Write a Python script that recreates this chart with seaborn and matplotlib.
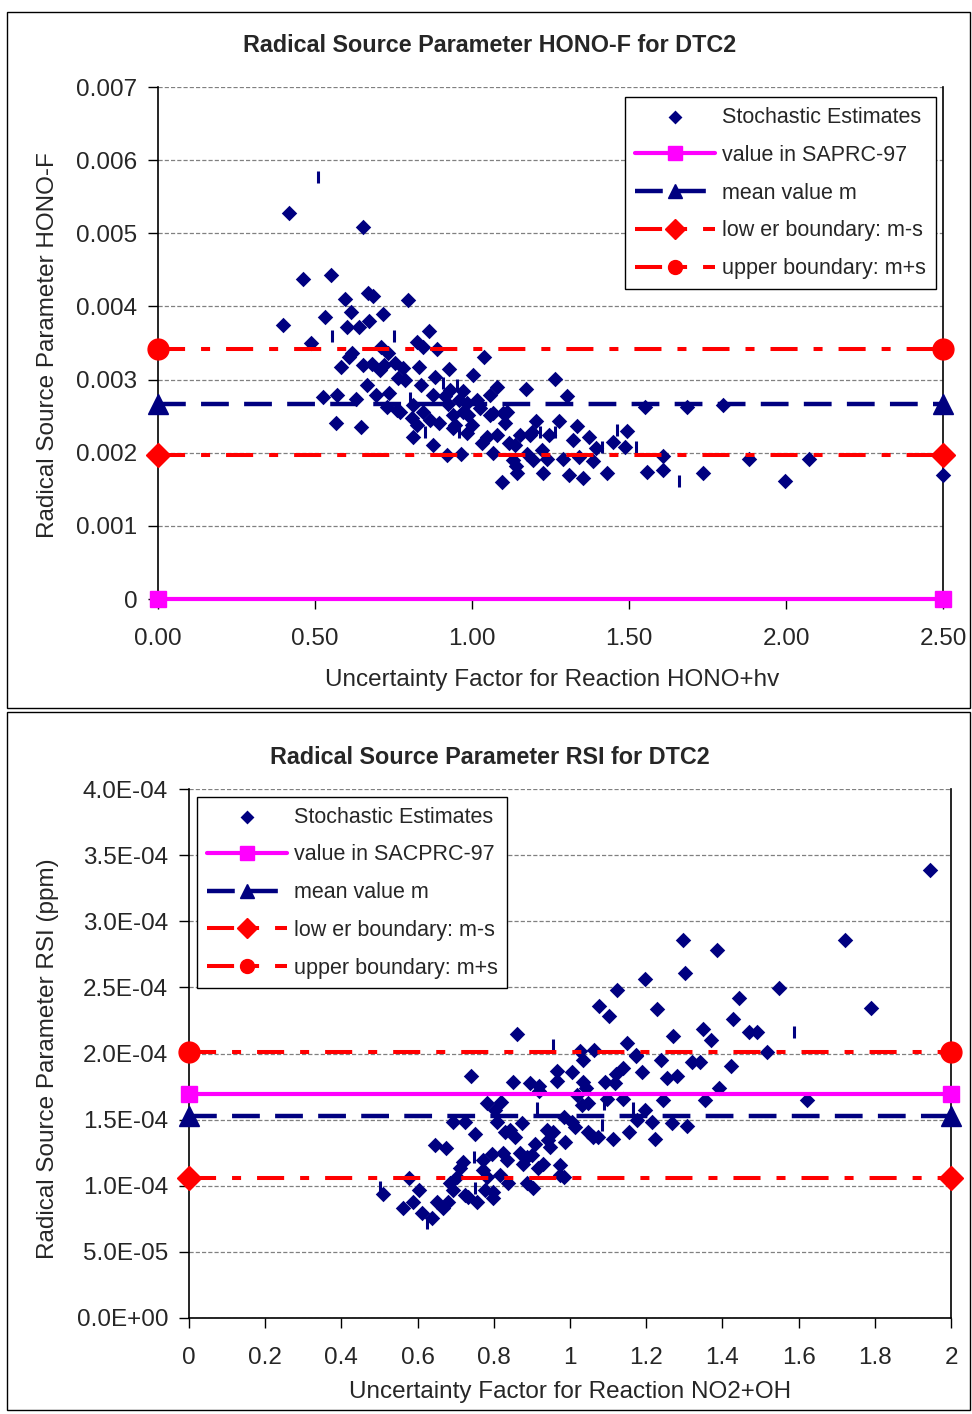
import numpy as np
import pandas as pd
import matplotlib
matplotlib.use("Agg")
import matplotlib.pyplot as plt
from matplotlib.patches import Rectangle
import seaborn as sns

# --- data: top panel (HONO-F) ---
hono_x = [0.418, 0.654, 0.461, 0.551, 0.597, 0.670, 0.684, 0.615, 0.532, 0.718,
          0.398, 0.603, 0.641, 0.673, 0.487, 0.795, 0.864, 0.824, 0.845, 0.890,
          0.618, 0.609, 0.584, 0.654, 0.710, 0.733, 0.667, 0.693, 0.737, 0.527,
          0.571, 0.629, 0.566, 0.648, 0.728, 0.760, 1.038, 0.832, 0.928, 0.720,
          0.755, 0.781, 0.765, 0.787, 1.004, 0.838, 0.883, 1.081, 1.057, 1.171,
          1.265, 1.303, 0.877, 0.930, 0.972, 0.914, 0.960, 0.985, 1.015, 1.025,
          0.925, 0.771, 0.813, 0.808, 0.845, 0.866, 0.896, 0.824, 0.811, 0.877,
          0.940, 0.946, 0.940, 0.970, 0.988, 0.983, 0.999, 1.031, 1.047, 1.079,
          1.068, 1.057, 1.068, 1.100, 1.111, 1.105, 0.919, 0.965, 1.119, 1.137,
          1.153, 1.185, 1.190, 1.205, 1.246, 1.278, 1.174, 1.195, 1.222, 1.238,
          1.129, 1.140, 1.143, 1.095, 1.227, 1.289, 1.310, 1.354, 1.323, 1.335,
          1.342, 1.386, 1.373, 1.395, 1.431, 1.450, 1.488, 1.495, 1.552, 1.556,
          1.609, 1.609, 1.686, 1.800, 1.737, 1.883, 1.998, 2.074, 2.501, 0.707,
          0.680]
hono_y = [5.28, 5.08, 4.37, 4.43, 4.10, 4.19, 4.14, 3.93, 3.85, 3.89,
          3.75, 3.72, 3.72, 3.80, 3.50, 4.09, 3.66, 3.51, 3.44, 3.42,
          3.36, 3.31, 3.17, 3.20, 3.45, 3.37, 2.92, 2.79, 2.82, 2.76,
          2.79, 2.74, 2.40, 2.35, 2.63, 2.59, 3.31, 3.17, 3.14, 3.20,
          3.22, 3.16, 3.02, 3.00, 3.06, 2.93, 3.03, 2.90, 2.79, 2.87,
          3.01, 2.77, 2.79, 2.86, 2.85, 2.77, 2.72, 2.68, 2.72, 2.61,
          2.67, 2.56, 2.65, 2.47, 2.56, 2.45, 2.41, 2.38, 2.21, 2.11,
          2.52, 2.38, 2.34, 2.56, 2.52, 2.27, 2.38, 2.13, 2.22, 2.24,
          1.99, 2.52, 2.54, 2.54, 2.56, 2.40, 1.97, 1.98, 2.13, 2.11,
          2.24, 2.24, 2.29, 2.44, 2.24, 2.44, 1.98, 1.90, 2.04, 1.92,
          1.90, 1.82, 1.72, 1.60, 1.72, 1.91, 1.70, 1.66, 2.18, 2.36,
          1.94, 1.88, 2.22, 2.06, 1.72, 2.15, 2.08, 2.30, 2.62, 1.74,
          1.76, 1.95, 2.62, 2.65, 1.72, 1.91, 1.61, 1.91, 1.69, 3.13,
          3.21]
hono_y = [v * 1e-3 for v in hono_y]
# thin clipped marks
hono_bar_x = [0.508, 0.553, 0.750, 0.909, 0.953, 0.850, 0.960, 1.217, 1.264, 1.413,
              1.463, 1.522, 0.803, 1.660]
hono_bar_y = [5.77, 3.59, 3.59, 2.95, 2.93, 2.29, 2.29, 2.29, 2.29, 2.08,
              2.31, 2.08, 2.75, 1.61]
hono_bar_y = [v * 1e-3 for v in hono_bar_y]
hono_saprc = 0.0
hono_mean = 0.00267
hono_low = 0.00197
hono_up = 0.00342
hono_xrange = [0.0, 2.5]
hono_yticks = [0, 0.001, 0.002, 0.003, 0.004, 0.005, 0.006, 0.007]
hono_yticklabels = ["0", "0.001", "0.002", "0.003", "0.004", "0.005", "0.006", "0.007"]
hono_xticks = [0, 0.5, 1.0, 1.5, 2.0, 2.5]
hono_xticklabels = ["0.00", "0.50", "1.00", "1.50", "2.00", "2.50"]

# --- data: bottom panel (RSI) ---
rsi_x = [1.077, 1.103, 0.862, 1.026, 1.062, 1.035, 1.150, 1.172, 1.188, 1.140,
         1.122, 0.967, 1.004, 0.967, 1.092, 1.118, 1.035, 1.042, 0.895, 0.919,
         0.919, 0.850, 0.741, 1.018, 1.031, 1.048, 1.098, 1.140, 0.781, 0.819,
         0.803, 0.694, 0.724, 0.751, 0.808, 0.829, 0.843, 0.856, 0.873, 0.983,
         1.004, 1.013, 0.939, 0.956, 0.943, 0.948, 0.908, 0.987, 1.048, 1.061,
         1.074, 1.112, 1.156, 1.175, 1.197, 0.646, 0.674, 0.720, 0.711, 0.704,
         0.685, 0.694, 0.771, 0.794, 0.825, 0.834, 0.869, 0.886, 0.899, 0.877,
         0.930, 0.917, 0.974, 0.772, 0.781, 0.816, 0.838, 0.886, 0.902, 0.974,
         0.983, 0.724, 0.733, 0.755, 0.777, 0.799, 0.799, 0.578, 0.604, 0.589,
         0.562, 0.611, 0.637, 0.650, 0.666, 0.681, 0.510, 1.297, 1.387, 1.302,
         1.723, 1.197, 1.124, 1.549, 1.790, 1.229, 1.444, 1.429, 1.348, 1.371,
         1.471, 1.492, 1.271, 1.518, 1.173, 1.239, 1.319, 1.341, 1.423, 1.254,
         1.282, 1.392, 1.354, 1.245, 1.623, 1.267, 1.308, 1.224, 1.214, 1.945]
rsi_y = [2.359, 2.286, 2.147, 2.020, 2.030, 1.950, 2.077, 1.989, 1.862, 1.888,
         1.845, 1.870, 1.862, 1.794, 1.787, 1.779, 1.787, 1.737, 1.779, 1.754,
         1.719, 1.787, 1.830, 1.686, 1.611, 1.624, 1.654, 1.654, 1.624, 1.636,
         1.573, 1.484, 1.484, 1.391, 1.484, 1.409, 1.422, 1.371, 1.477, 1.522,
         1.484, 1.447, 1.422, 1.409, 1.346, 1.295, 1.316, 1.333, 1.409, 1.371,
         1.366, 1.351, 1.409, 1.497, 1.573, 1.308, 1.288, 1.182, 1.132, 1.068,
         1.018, 0.968, 1.195, 1.240, 1.245, 1.195, 1.245, 1.220, 1.232, 1.164,
         1.164, 1.132, 1.157, 1.119, 1.068, 1.081, 1.023, 1.018, 0.980, 1.081,
         1.068, 0.930, 0.917, 0.879, 0.968, 0.955, 0.905, 1.061, 0.968, 0.879,
         0.829, 0.792, 0.754, 0.879, 0.829, 0.879, 0.938, 2.858, 2.783, 2.606,
         2.858, 2.561, 2.480, 2.498, 2.347, 2.334, 2.422, 2.259, 2.183, 2.102,
         2.165, 2.165, 2.132, 2.014, 1.981, 1.951, 1.933, 1.933, 1.905, 1.817,
         1.830, 1.737, 1.648, 1.648, 1.648, 1.471, 1.452, 1.351, 1.484, 3.387]
rsi_y = [v * 1e-4 for v in rsi_y]
rsi_bar_x = [0.501, 0.625, 0.748, 0.751, 0.914, 0.956, 1.089, 1.083, 1.166, 1.588]
rsi_bar_y = [0.993, 0.716, 1.220, 0.980, 1.586, 2.064, 1.620, 1.460, 1.586, 2.165]
rsi_bar_y = [v * 1e-4 for v in rsi_bar_y]
rsi_saprc = 1.694e-4
rsi_mean = 1.527e-4
rsi_low = 1.059e-4
rsi_up = 2.011e-4
rsi_xrange = [0.0, 2.0]
rsi_yticks = [0, 5e-5, 1e-4, 1.5e-4, 2e-4, 2.5e-4, 3e-4, 3.5e-4, 4e-4]
rsi_yticklabels = ["0.0E+00", "5.0E-05", "1.0E-04", "1.5E-04", "2.0E-04",
                   "2.5E-04", "3.0E-04", "3.5E-04", "4.0E-04"]
rsi_xticks = [0, 0.2, 0.4, 0.6, 0.8, 1.0, 1.2, 1.4, 1.6, 1.8, 2.0]
rsi_xticklabels = ["0", "0.2", "0.4", "0.6", "0.8", "1", "1.2", "1.4", "1.6", "1.8", "2"]

NAVY = "#000080"
RED = "#FF0000"
MAGENTA = "#FF00FF"

sns.set_style("white")
plt.rcParams["font.family"] = ["Liberation Sans", "DejaVu Sans"]
plt.rcParams["lines.scale_dashes"] = False

fig = plt.figure(figsize=(9.72, 14.14), dpi=100)
W, H = 972, 1414


def frac(x0, y0, x1, y1):
    return [x0 / W, 1 - y1 / H, (x1 - x0) / W, (y1 - y0) / H]


# outer boxes round each chart
for (x0, y0, x1, y1) in [(7, 12, 970, 708), (7, 712, 970, 1410)]:
    fig.add_artist(Rectangle((x0 / W, 1 - y1 / H), (x1 - x0) / W, (y1 - y0) / H,
                             transform=fig.transFigure, fill=False,
                             edgecolor="black", linewidth=1.0))


def draw_panel(ax, px, py, bx, by, saprc, mean, low, up, xr, ylim,
               yticks, yticklabels, xticks, xticklabels, saprc_label, legend_xy):
    df = pd.DataFrame({"x": px, "y": py})
    sns.scatterplot(data=df, x="x", y="y", ax=ax, marker="D", s=62, color=NAVY,
                    edgecolor=NAVY, linewidth=0, label="Stochastic Estimates",
                    zorder=4, clip_on=False)
    ax.plot(bx, by, linestyle="none", marker="|", markersize=9, mew=2.2,
            color=NAVY, zorder=4, label="_nolegend_")
    ax.plot(xr, [saprc, saprc], color=MAGENTA, lw=3.0, marker="s", ms=12,
            label=saprc_label, zorder=5, clip_on=False)
    ax.plot(xr, [mean, mean], color=NAVY, lw=3.2, linestyle=(0, (20, 11)),
            marker="^", ms=15, label="mean value m", zorder=5, clip_on=False)
    ax.plot(xr, [low, low], color=RED, lw=2.9, linestyle=(0, (19.5, 11.5, 6.5, 11.5)),
            marker="D", ms=12, label="low er boundary: m-s", zorder=5, clip_on=False)
    ax.plot(xr, [up, up], color=RED, lw=2.9, linestyle=(0, (19.5, 11.5, 6.5, 11.5)),
            marker="o", ms=15, label="upper boundary: m+s", zorder=5, clip_on=False)

    ax.set_xlim(xr)
    ax.set_ylim(ylim)
    ax.set_yticks(yticks)
    ax.set_yticklabels(yticklabels)
    ax.set_xticks(xticks)
    ax.set_xticklabels(xticklabels)
    ax.yaxis.grid(True, color="#808080", linestyle=(0, (3, 1.5)), linewidth=0.9)
    ax.xaxis.grid(False)
    ax.set_axisbelow(True)
    for s in ["left", "right", "bottom"]:
        ax.spines[s].set_visible(True)
        ax.spines[s].set_color("black")
        ax.spines[s].set_linewidth(1.2)
    ax.spines["top"].set_visible(False)
    ax.tick_params(axis="both", direction="out", length=7, width=1.0,
                   color="black", labelsize=17.5, left=True, bottom=True)
    ax.tick_params(axis="y", pad=8)
    ax.tick_params(axis="x", pad=14)

    leg = ax.legend(loc="upper left", bbox_to_anchor=legend_xy, borderaxespad=0,
                    fontsize=15.5, frameon=True, fancybox=False, framealpha=1,
                    edgecolor="black", handlelength=3.75, handletextpad=0.3,
                    labelspacing=0.78, borderpad=0.45, numpoints=1)
    leg.get_frame().set_linewidth(1.0)
    leg.set_zorder(10)
    # legend markers are drawn smaller than the end markers on the lines
    for h in leg.legend_handles:
        if hasattr(h, "set_markersize"):
            h.set_markersize(10)
        else:
            h.set_sizes([50])


def place_labels(ax, xlab, xl_xy, ylab, yl_xy):
    ax.set_xlabel(xlab, fontsize=17.5)
    ax.set_ylabel(ylab, fontsize=17.5)
    ax.xaxis.set_label_coords(*xl_xy)
    ax.yaxis.set_label_coords(*yl_xy)
    ax.xaxis.label.set_va("center")
    ax.yaxis.label.set_va("center")


ax1 = fig.add_axes(frac(158, 87, 943, 599))
draw_panel(ax1, hono_x, hono_y, hono_bar_x, hono_bar_y, hono_saprc, hono_mean,
           hono_low, hono_up, hono_xrange, (0, 0.007), hono_yticks, hono_yticklabels,
           hono_xticks, hono_xticklabels, "value in SAPRC-97", (0.595, 0.98))
place_labels(ax1, "Uncertainty Factor for Reaction HONO+hv", (0.502, -0.158),
             "Radical Source Parameter HONO-F", (-0.140, 0.496))
fig.text(490 / W, 1 - 46 / H, "Radical Source Parameter HONO-F for DTC2",
         ha="center", va="center", fontsize=16.8, fontweight="bold")

ax2 = fig.add_axes(frac(189, 789, 951, 1318))
draw_panel(ax2, rsi_x, rsi_y, rsi_bar_x, rsi_bar_y, rsi_saprc, rsi_mean,
           rsi_low, rsi_up, rsi_xrange, (0, 4e-4), rsi_yticks, rsi_yticklabels,
           rsi_xticks, rsi_xticklabels, "value in SACPRC-97", (0.0105, 0.985))
place_labels(ax2, "Uncertainty Factor for Reaction NO2+OH", (0.5, -0.140),
             "Radical Source Parameter RSI (ppm)", (-0.185, 0.49))
fig.text(490 / W, 1 - 757 / H, "Radical Source Parameter RSI for DTC2",
         ha="center", va="center", fontsize=16.8, fontweight="bold")

fig.savefig("out.png", dpi=100)
